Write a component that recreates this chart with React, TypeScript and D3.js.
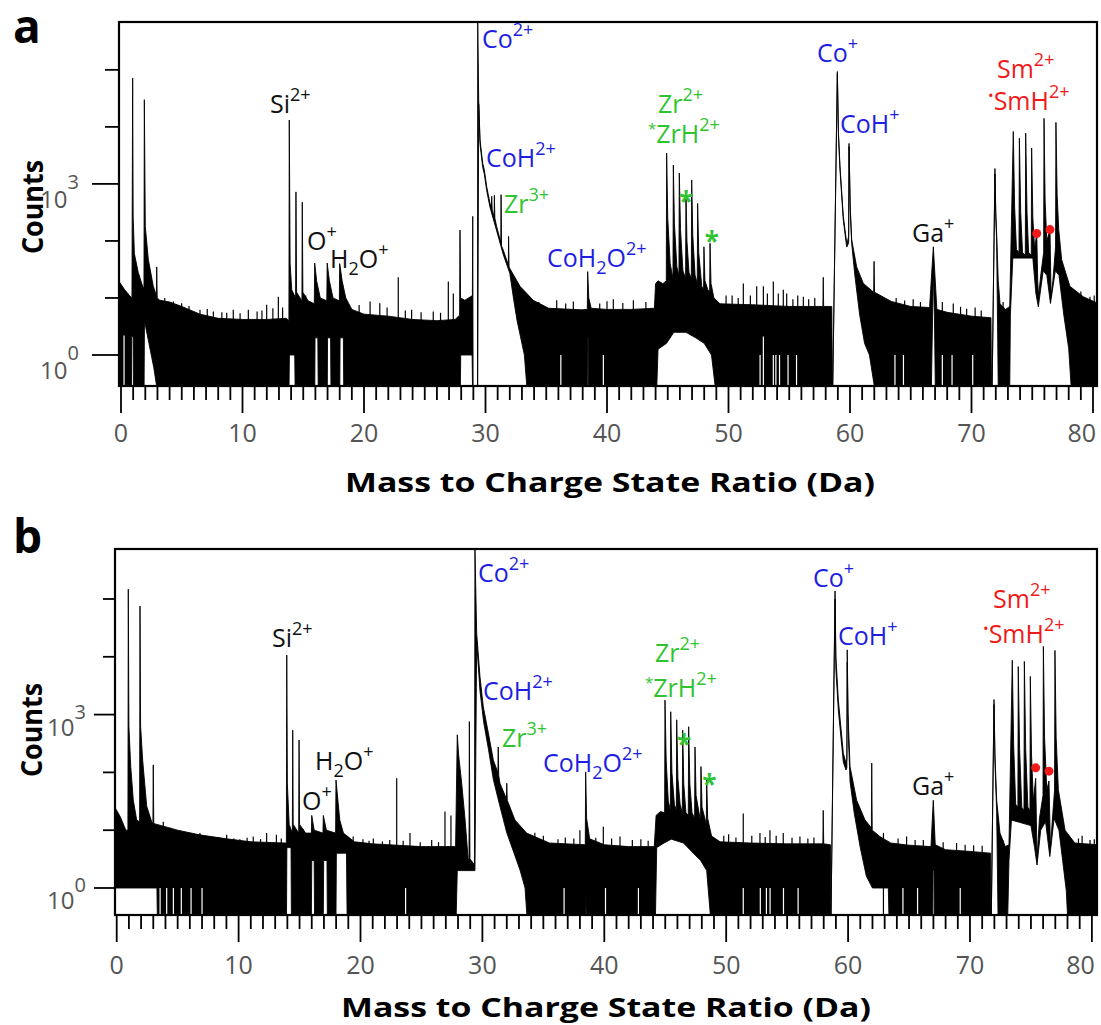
import React from "react";
import * as d3 from "d3";

type Pt = [number, number];

// ---------------- Panel a : spectrum envelope (m/z in Da, counts) ----------------
const upperA: Pt[] = [
  [-0.2, 20], [0.3, 14], [0.7, 11], [0.9, 10], [0.96, 72000], [1.0, 270], [1.1, 60], [1.42, 28], [1.78, 16],
  [1.89, 15], [1.92, 30000], [2.0, 178], [2.25, 47], [2.66, 16], [2.91, 11], [2.94, 35], [2.98, 10], [3.2, 9.1],
  [4.0, 8.5], [5.0, 7.1], [6.5, 5.2], [8.0, 4.4], [10.0, 4.2], [12.0, 4.2], [13.6, 4.4], [13.82, 4.0],
  [13.85, 13200], [13.92, 40], [14.05, 14], [14.37, 10], [14.4, 724], [14.45, 12.6], [14.89, 8.9], [14.92, 479],
  [14.97, 12.6], [15.4, 8.9], [15.91, 7.9], [15.94, 41], [16.1, 20], [16.4, 10], [16.94, 8.9], [16.97, 41],
  [17.15, 20], [17.45, 10], [17.97, 8.9], [18.0, 40], [18.2, 20], [18.5, 10], [19.0, 6.3], [20.0, 5.2],
  [22.0, 4.8], [24.0, 4.2], [26.0, 4.0], [27.5, 4.2], [27.87, 5.0], [27.9, 155], [27.95, 10], [28.3, 9.1],
  [28.92, 11], [28.95, 270], [28.98, 0], [29.34, 0], [29.36, 1e6], [29.44, 29500], [29.55, 5900], [29.77, 2290],
  [29.9, 1780], [30.1, 890], [30.37, 457], [30.49, 400], [30.51, 603], [30.55, 355], [30.71, 260], [30.73, 631],
  [30.77, 251], [30.92, 178], [31.26, 95], [31.28, 646], [31.32, 82], [31.46, 69], [31.88, 38], [31.9, 120],
  [31.94, 35], [32.0, 33], [32.84, 16], [33.93, 9.1], [35.2, 6.6], [37.9, 6.2], [38.38, 6.3], [38.41, 29],
  [38.5, 10], [38.7, 6.6], [40.0, 6.3], [42.0, 6.3], [43.9, 6.6], [44.0, 17.8], [44.2, 20], [44.6, 17.8],
  [44.88, 20], [44.91, 3470], [45.0, 251], [45.2, 40], [45.43, 22], [45.46, 2140], [45.55, 200], [45.75, 35],
  [45.92, 25], [45.95, 1550], [46.05, 158], [46.25, 30], [46.47, 22], [46.5, 692], [46.58, 100], [46.75, 28],
  [46.94, 22], [46.97, 1175], [47.06, 126], [47.25, 25], [47.43, 18], [47.46, 457], [47.55, 63], [47.8, 16],
  [47.95, 14], [47.98, 79], [48.06, 20], [48.3, 14], [48.45, 13], [48.48, 91], [48.56, 18], [48.8, 10],
  [49.3, 7.9], [52.0, 7.6], [55.0, 7.1], [57.77, 7.1], [57.8, 23], [57.83, 7.1], [58.5, 7.1], [58.55, 0],
  [58.58, 0], [58.96, 93300], [59.05, 7940], [59.18, 2000], [59.45, 270], [59.73, 91], [59.8, 100], [59.89, 120],
  [59.92, 5130], [60.02, 398], [60.14, 105], [60.55, 35], [61.1, 18], [61.95, 12.6], [61.98, 44], [62.02, 12.6],
  [62.2, 12], [63.4, 8.7], [65.0, 7.1], [66.55, 6.8], [66.86, 79], [67.15, 6.3], [68.0, 5.6], [70.0, 4.8],
  [71.6, 4.5], [71.65, 0], [71.7, 0], [71.93, 1860], [72.0, 316], [72.07, 135], [72.2, 20], [72.35, 7.9],
  [72.8, 6.3], [73.15, 7.1], [73.44, 8300], [73.55, 398], [73.7, 71], [73.91, 63], [73.94, 6310], [74.05, 316],
  [74.2, 63], [74.43, 56], [74.46, 7760], [74.57, 316], [74.7, 63], [74.92, 56], [74.95, 4270], [75.05, 251],
  [75.2, 71], [75.37, 141], [75.45, 20], [75.52, 10.5], [75.7, 25], [75.94, 63], [75.97, 14100], [76.06, 501],
  [76.2, 100], [76.46, 158], [76.55, 11], [76.7, 20], [76.92, 79], [76.95, 12000], [77.05, 631], [77.18, 158],
  [77.42, 47], [78.1, 16], [79.2, 10.5], [80.5, 7.9],
];
const lowerA: Pt[] = [
  [-0.2, 0], [0.86, 0], [0.88, 2.1], [1.0, 2.1], [1.02, 0], [1.9, 0], [1.93, 4.0], [2.3, 1.6], [2.7, 0.6],
  [2.93, 0], [13.83, 0], [13.86, 1], [14.3, 1], [14.33, 0], [15.95, 0], [15.97, 2], [16.2, 2], [16.23, 0],
  [16.98, 0], [17.0, 2], [17.25, 2], [17.28, 0], [18.01, 0], [18.03, 2], [18.3, 2], [18.33, 0], [27.93, 0],
  [27.96, 1], [28.9, 1], [28.93, 0], [29.36, 0], [29.44, 25000], [29.55, 5000], [29.77, 1950], [29.9, 1500],
  [30.1, 760], [30.37, 390], [30.92, 150], [31.46, 58], [32.0, 27], [32.3, 10], [32.6, 4], [32.9, 2], [33.2, 1],
  [33.4, 0], [38.38, 0], [38.4, 2], [38.45, 2], [38.47, 0], [44.1, 0], [44.2, 1.26], [44.9, 1.6], [45.5, 2.5],
  [46.5, 2.5], [47.3, 2], [48.0, 1.6], [48.6, 1], [48.9, 0], [58.58, 0], [58.96, 85000], [59.05, 7000],
  [59.18, 1750], [59.45, 230], [59.73, 78], [59.85, 88], [59.89, 95], [59.92, 4500], [60.02, 340], [60.14, 90],
  [60.4, 25], [60.8, 5], [61.2, 1.6], [61.6, 1], [62.0, 0], [66.7, 0], [66.8, 5], [66.86, 30], [66.95, 5],
  [67.02, 0], [71.7, 0], [71.93, 1500], [72.0, 250], [72.07, 100], [72.2, 0], [73.15, 0], [73.2, 5], [73.4, 50],
  [75.05, 50], [75.3, 12], [75.5, 7], [75.9, 30], [76.2, 25], [76.5, 8], [76.9, 30], [77.2, 25], [77.6, 5],
  [78.0, 1.3], [78.2, 0], [80.5, 0],
];
const noiseA: Pt[] = [
  [3.6, 10], [4.31, 8.7], [4.99, 8.1], [5.6, 7.2], [6.5, 6.2], [7.1, 6.4], [7.6, 5.8], [8.3, 5.6], [8.7, 5.5],
  [9.24, 6.2], [9.8, 5.4], [10.48, 6.2], [11.2, 5.8], [11.6, 6.0], [11.99, 7.6], [12.5, 6.6], [12.95, 10.5],
  [13.3, 6.8], [15.2, 11], [19.6, 7.5], [20.5, 8.7], [21.3, 8.1], [21.9, 6.8], [22.82, 23], [23.4, 6],
  [23.92, 6.2], [24.7, 5.6], [25.7, 5.8], [26.3, 5.5], [26.94, 19.5], [27.35, 12], [33.5, 11], [34.4, 8.5],
  [35.86, 9.1], [36.6, 8], [37.23, 8.7], [39.4, 8], [40.0, 8.8], [40.52, 9.5], [41.3, 8.2], [42.17, 9.1],
  [43.2, 8.5], [49.8, 11], [50.3, 11], [50.8, 10], [51.22, 18], [51.8, 11], [52.32, 16], [52.87, 16],
  [53.2, 12], [53.69, 19.5], [54.1, 12], [54.51, 14], [54.79, 12], [55.3, 9.5], [55.7, 11], [56.16, 10.5],
  [56.6, 9.5], [57.1, 10], [63.8, 10], [64.5, 9], [65.2, 9.5], [65.8, 8.5], [67.6, 8.5], [68.5, 8], [69.1, 7],
  [69.6, 6.5], [70.3, 6.8], [70.8, 6], [72.6, 8.5], [78.6, 12], [79.0, 13], [79.75, 10.5], [80.1, 11],
];
const gapsA: Pt[] = [
  [0.25, 2.2], [36.2, 1], [39.7, 1], [52.6, 1], [52.87, 2.1], [53.69, 1], [53.9, 1], [54.2, 1], [54.9, 1],
  [55.6, 1], [63.7, 1], [64.4, 1], [67.6, 1], [68.4, 1], [70.1, 1],
];

// ---------------- Panel b ----------------
const upperB: Pt[] = [
  [-0.2, 26], [0.3, 17], [0.75, 10], [0.92, 10], [0.95, 148000], [1.0, 631], [1.15, 126], [1.36, 33], [1.64, 15],
  [1.88, 14], [1.91, 75900], [1.96, 631], [2.13, 162], [2.46, 26], [2.87, 14], [2.97, 13], [3.0, 135], [3.04, 13],
  [3.3, 12.6], [5.0, 10], [6.8, 8.3], [9.0, 7.1], [11.0, 6.3], [13.8, 6.0], [13.92, 6.0], [13.95, 10700],
  [14.0, 63], [14.15, 12.6], [14.41, 8.9], [14.44, 537], [14.48, 12.6], [14.93, 8.9], [14.96, 363], [15.0, 12.6],
  [15.5, 8.9], [15.97, 8.9], [16.0, 18], [16.2, 10], [16.92, 8.9], [16.95, 18], [17.2, 10], [17.96, 8.9],
  [17.99, 74], [18.3, 15], [18.6, 8.9], [19.5, 6.3], [21.0, 5.8], [23.0, 5.5], [25.0, 5.2], [27.8, 5.2],
  [27.94, 447], [28.05, 200], [28.3, 65], [28.57, 16], [28.84, 3.0], [28.9, 3.2], [28.93, 759], [28.98, 3.2],
  [29.35, 2.5], [29.39, 1e6], [29.53, 25700], [29.8, 4570], [30.07, 1380], [30.49, 479], [30.9, 162], [31.27, 100],
  [31.3, 275], [31.34, 89], [31.44, 65], [31.97, 35], [32.0, 65], [32.04, 33], [32.67, 15], [33.63, 8.9],
  [35.5, 6.0], [38.44, 5.6], [38.47, 102], [38.55, 16], [38.8, 7.1], [40.0, 5.6], [42.0, 5.2], [44.1, 5.2],
  [44.25, 18], [44.6, 21], [44.95, 20], [44.98, 1780], [45.08, 158], [45.25, 32], [45.42, 22], [45.45, 1120],
  [45.55, 100], [45.75, 28], [45.91, 22], [45.94, 813], [46.04, 79], [46.22, 28], [46.4, 20], [46.43, 537],
  [46.52, 63], [46.7, 20], [46.89, 18], [46.92, 617], [47.02, 63], [47.2, 20], [47.41, 16], [47.44, 275],
  [47.53, 40], [47.9, 14], [47.93, 126], [48.02, 25], [48.37, 12.6], [48.4, 79], [48.48, 16], [48.8, 7.9],
  [49.5, 6.3], [52.0, 6.0], [55.0, 5.8], [57.93, 5.8], [57.96, 22], [58.0, 5.8], [58.55, 5.6], [58.58, 0],
  [58.6, 0], [58.93, 138000], [59.0, 10000], [59.2, 1780], [59.61, 214], [59.83, 145], [59.9, 170],
  [59.93, 13200], [60.0, 1000], [60.16, 126], [60.7, 33], [61.39, 15], [61.91, 11], [61.94, 145], [61.98, 10],
  [62.6, 7.8], [63.5, 6.0], [65.0, 5.5], [66.8, 5.2], [66.99, 33], [67.15, 5.6], [68.0, 4.6], [70.0, 4.3],
  [71.7, 4.0], [71.72, 0], [71.75, 0], [71.97, 1820], [72.05, 200], [72.19, 33], [72.46, 8.9], [72.9, 5.2],
  [73.2, 5.6], [73.47, 8710], [73.58, 316], [73.75, 28], [73.93, 25], [73.96, 6760], [74.07, 251], [74.25, 25],
  [74.43, 22], [74.46, 8320], [74.57, 251], [74.75, 25], [74.92, 22], [74.95, 4570], [75.05, 200], [75.2, 32],
  [75.39, 79], [75.5, 3.2], [75.7, 16], [75.99, 40], [76.02, 15100], [76.12, 398], [76.3, 50], [76.48, 71],
  [76.6, 5.0], [76.8, 20], [76.94, 50], [76.97, 12900], [77.07, 398], [77.25, 50], [77.8, 10], [78.6, 6.0],
  [80.5, 5.6],
];
const lowerB: Pt[] = [
  [-0.2, 1], [3.3, 1], [3.33, 0], [13.93, 0], [13.96, 5], [14.3, 5], [14.33, 0], [15.97, 0], [16.0, 3],
  [16.2, 3], [16.23, 0], [16.95, 0], [16.98, 3], [17.25, 3], [17.28, 0], [17.99, 0], [18.02, 4], [18.85, 4],
  [18.9, 0], [27.85, 0], [27.94, 2], [29.39, 2], [29.53, 18000], [29.8, 2600], [30.1, 750], [30.5, 250],
  [30.9, 75], [31.4, 28], [32.0, 9], [32.6, 4], [33.1, 2], [33.5, 1], [33.65, 0], [38.45, 0], [38.47, 1],
  [38.52, 0], [44.2, 0], [44.3, 5], [44.9, 6], [45.5, 7], [46.5, 6], [47.3, 4], [47.9, 3], [48.4, 2],
  [48.7, 0], [58.6, 0], [58.93, 100000], [59.0, 6000], [59.2, 1200], [59.61, 150], [59.83, 110], [59.9, 120],
  [59.93, 8000], [60.0, 600], [60.16, 70], [60.5, 20], [61.0, 5], [61.5, 1.6], [62.0, 1], [63.3, 1], [63.35, 0],
  [66.95, 0], [66.97, 2], [67.05, 2], [67.07, 0], [71.75, 0], [71.97, 1500], [72.05, 150], [72.19, 20],
  [72.3, 0], [73.1, 0], [73.2, 3], [73.4, 15], [75.0, 12], [75.3, 5], [75.5, 2.5], [75.8, 10], [76.2, 14],
  [76.55, 3.5], [76.9, 16], [77.3, 10], [77.6, 3], [77.9, 0.9], [78.0, 0], [80.5, 0],
];
const noiseB: Pt[] = [
  [3.82, 14], [4.4, 11], [4.92, 10], [5.8, 9], [6.83, 8.9], [7.3, 8], [7.8, 7.5], [8.4, 7.6], [9.02, 8.3],
  [9.6, 7.2], [10.1, 7], [10.7, 7.4], [11.2, 7.8], [11.8, 7], [12.3, 8.9], [13.1, 8.3], [13.5, 7.2], [15.3, 10.5],
  [19.4, 7.8], [20.2, 7], [20.7, 6.6], [21.05, 7.2], [21.8, 6.4], [22.4, 6.8], [22.97, 79], [23.5, 6.6],
  [24.06, 8.9], [24.9, 6.2], [25.84, 6.8], [26.4, 6.2], [26.93, 21], [27.42, 18], [34.3, 9], [35.0, 8],
  [36.2, 7], [36.8, 7.5], [37.5, 7.2], [38.0, 10], [39.3, 7.4], [39.92, 11.5], [40.6, 7.2], [41.29, 7.8],
  [42.3, 6.8], [43.0, 7], [43.6, 6.6], [49.8, 8], [50.2, 8.5], [50.8, 7.5], [51.4, 19.5], [52.1, 8],
  [52.77, 8.9], [53.2, 7.6], [53.59, 10], [54.1, 8], [54.68, 8.9], [55.4, 7.4], [56.05, 7.8], [56.7, 7.2],
  [57.2, 7.5], [62.9, 9], [64.1, 7.2], [64.8, 7.8], [65.5, 6.8], [66.17, 6.8], [67.8, 6.2], [68.9, 6],
  [69.6, 5.6], [70.3, 5.5], [71.0, 5.4], [72.7, 6.8], [78.9, 7.2], [79.2, 8], [79.85, 6.8], [80.2, 7],
];
const gapsB: Pt[] = [
  [3.56, 1], [4.1, 1], [4.65, 1], [5.3, 1], [6.1, 1], [7.0, 1], [23.7, 1], [36.7, 1], [40.1, 1], [42.8, 1],
  [51.4, 1], [52.8, 1], [53.3, 1], [53.6, 1], [54.7, 1], [55.9, 1], [64.5, 1], [65.7, 1], [69.2, 1],
];

// ---------------- axes ----------------
const xMajorTicks = [0, 10, 20, 30, 40, 50, 60, 70, 80];
const yDecadeTicks = [1, 10, 100, 1000, 10000, 100000];
const yLabelledExps = [0, 3];

// ---------------- annotations (m/z, counts) ----------------
type Part = { t: string; k?: "sup" | "sub" | "pre" };
type Lab = { mz: number; c: number; color: string; parts: Part[] };
const BLUE = "#1e1ee0";
const GREEN = "#2fc42f";
const RED = "#f01a1a";
const BLACK = "#111";

const labelsA: Lab[] = [
  { mz: 12.26, c: 17800, color: BLACK, parts: [{ t: "Si" }, { t: "2+", k: "sup" }] },
  { mz: 15.31, c: 69, color: BLACK, parts: [{ t: "O" }, { t: "+", k: "sup" }] },
  { mz: 17.2, c: 34, color: BLACK, parts: [{ t: "H" }, { t: "2", k: "sub" }, { t: "O" }, { t: "+", k: "sup" }] },
  { mz: 29.71, c: 245000, color: BLUE, parts: [{ t: "Co" }, { t: "2+", k: "sup" }] },
  { mz: 30.04, c: 2000, color: BLUE, parts: [{ t: "CoH" }, { t: "2+", k: "sup" }] },
  { mz: 31.52, c: 309, color: GREEN, parts: [{ t: "Zr" }, { t: "3+", k: "sup" }] },
  { mz: 35.06, c: 35, color: BLUE, parts: [{ t: "CoH" }, { t: "2", k: "sub" }, { t: "O" }, { t: "2+", k: "sup" }] },
  { mz: 44.2, c: 17800, color: GREEN, parts: [{ t: "Zr" }, { t: "2+", k: "sup" }] },
  { mz: 43.37, c: 5250, color: GREEN, parts: [{ t: "*", k: "pre" }, { t: "ZrH" }, { t: "2+", k: "sup" }] },
  { mz: 57.28, c: 138000, color: BLUE, parts: [{ t: "Co" }, { t: "+", k: "sup" }] },
  { mz: 59.18, c: 7800, color: BLUE, parts: [{ t: "CoH" }, { t: "+", k: "sup" }] },
  { mz: 65.1, c: 95, color: BLACK, parts: [{ t: "Ga" }, { t: "+", k: "sup" }] },
  { mz: 72.1, c: 72400, color: RED, parts: [{ t: "Sm" }, { t: "2+", k: "sup" }] },
  { mz: 71.36, c: 20000, color: RED, parts: [{ t: "•", k: "pre" }, { t: "SmH" }, { t: "2+", k: "sup" }] },
];
const labelsB: Lab[] = [
  { mz: 12.74, c: 14800, color: BLACK, parts: [{ t: "Si" }, { t: "2+", k: "sup" }] },
  { mz: 16.27, c: 110, color: BLACK, parts: [{ t: "H" }, { t: "2", k: "sub" }, { t: "O" }, { t: "+", k: "sup" }] },
  { mz: 15.2, c: 22, color: BLACK, parts: [{ t: "O" }, { t: "+", k: "sup" }] },
  { mz: 29.64, c: 195000, color: BLUE, parts: [{ t: "Co" }, { t: "2+", k: "sup" }] },
  { mz: 30.05, c: 1780, color: BLUE, parts: [{ t: "CoH" }, { t: "2+", k: "sup" }] },
  { mz: 31.61, c: 275, color: GREEN, parts: [{ t: "Zr" }, { t: "3+", k: "sup" }] },
  { mz: 34.97, c: 102, color: BLUE, parts: [{ t: "CoH" }, { t: "2", k: "sub" }, { t: "O" }, { t: "2+", k: "sup" }] },
  { mz: 44.16, c: 8130, color: GREEN, parts: [{ t: "Zr" }, { t: "2+", k: "sup" }] },
  { mz: 43.34, c: 2000, color: GREEN, parts: [{ t: "*", k: "pre" }, { t: "ZrH" }, { t: "2+", k: "sup" }] },
  { mz: 57.12, c: 162000, color: BLUE, parts: [{ t: "Co" }, { t: "+", k: "sup" }] },
  { mz: 59.17, c: 15800, color: BLUE, parts: [{ t: "CoH" }, { t: "+", k: "sup" }] },
  { mz: 65.24, c: 41, color: BLACK, parts: [{ t: "Ga" }, { t: "+", k: "sup" }] },
  { mz: 71.89, c: 69200, color: RED, parts: [{ t: "Sm" }, { t: "2+", k: "sup" }] },
  { mz: 71.07, c: 17400, color: RED, parts: [{ t: "•", k: "pre" }, { t: "SmH" }, { t: "2+", k: "sup" }] },
];
const starsA: Pt[] = [[46.5, 590], [48.62, 117]];
const starsB: Pt[] = [[46.54, 363], [48.61, 74]];
const dotsA: Pt[] = [[75.37, 135], [76.46, 158]];
const dotsB: Pt[] = [[75.39, 120], [76.48, 105]];

// ---------------- layout ----------------
const FONT = "'Open Sans', 'Noto Sans', 'DejaVu Sans', sans-serif";
type Layout = {
  id: string; left: number; right: number; top: number; bottom: number;
  xDom: [number, number]; yDom: [number, number]; letter: string; letterY: number;
  yMajorLen: number; yMinorLen: number; tickLabelY: number; titleY: number; titleX: number;
  countsX: number; countsY: number; yLabX: number; yLabDy: number; ySupDy: number;
};
const layoutA: Layout = {
  id: "a", left: 119, right: 1097, top: 22, bottom: 386, xDom: [-0.165, 80.33], yDom: [0.286, 6.9e5],
  letter: "a", letterY: 43, yMajorLen: 27, yMinorLen: 14, tickLabelY: 442, titleY: 492, titleX: 610,
  countsX: 43, countsY: 207, yLabX: 40, yLabDy: 24, ySupDy: -19,
};
const layoutB: Layout = {
  id: "b", left: 115, right: 1097, top: 549, bottom: 915, xDom: [-0.14, 80.42], yDom: [0.341, 7.33e5],
  letter: "b", letterY: 553, yMajorLen: 21, yMinorLen: 12, tickLabelY: 974, titleY: 1017, titleX: 606,
  countsX: 42, countsY: 730, yLabX: 47, yLabDy: 21, ySupDy: -17,
};

function Label({ x, y, lab }: { x: number; y: number; lab: Lab }) {
  let cur = 0;
  return (
    <text x={x} y={y} fill={lab.color} fontSize={25} fontFamily={FONT}>
      {lab.parts.map((p, i) => {
        const target = p.k === "sup" ? -12 : p.k === "sub" ? 7 : p.k === "pre" ? -9 : 0;
        const dy = target - cur;
        cur = target;
        const fs = p.k === "pre" ? 15 : p.k ? 18 : 25;
        return (
          <tspan key={i} dy={dy} fontSize={fs}>
            {p.t}
          </tspan>
        );
      })}
    </text>
  );
}

function Panel({ L, upper, lower, noise, gaps, labels, stars, dots }: {
  L: Layout; upper: Pt[]; lower: Pt[]; noise: Pt[]; gaps: Pt[]; labels: Lab[]; stars: Pt[]; dots: Pt[];
}) {
  const x = d3.scaleLinear().domain(L.xDom).range([L.left, L.right]);
  const y = d3.scaleLog().domain(L.yDom).range([L.bottom, L.top]).clamp(true);
  const pts: Pt[] = [
    ...upper.map(([m, c]) => [x(m), y(c)] as Pt),
    ...lower.slice().reverse().map(([m, c]) => [x(m), y(c)] as Pt),
  ];
  const poly = d3.line()(pts) + "Z";
  const minor = d3.range(0, 81).filter((v) => v % 10 !== 0);
  const clipId = "clip-" + L.id;
  const lastTick = xMajorTicks[xMajorTicks.length - 1];
  return (
    <g>
      <defs>
        <clipPath id={clipId}>
          <rect x={L.left} y={L.top} width={L.right - L.left} height={L.bottom - L.top} />
        </clipPath>
      </defs>
      <g clipPath={`url(#${clipId})`}>
        <path d={poly} fill="#000" stroke="#000" strokeWidth={0.9} strokeLinejoin="round" />
        {noise.map(([m, c], i) => (
          <line key={i} x1={x(m)} x2={x(m)} y1={y(0)} y2={y(c)} stroke="#000" strokeWidth={1.2} />
        ))}
        {gaps.map(([m, c], i) => (
          <line key={i} x1={x(m)} x2={x(m)} y1={y(0)} y2={y(c)} stroke="#fff" strokeWidth={1.2} />
        ))}
      </g>
      <rect x={L.left} y={L.top} width={L.right - L.left} height={L.bottom - L.top} fill="none" stroke="#000" strokeWidth={2.2} />
      {/* x ticks */}
      {minor.map((t) => (
        <line key={"m" + t} x1={x(t)} x2={x(t)} y1={L.bottom} y2={L.bottom + 14} stroke="#000" strokeWidth={1.8} />
      ))}
      {xMajorTicks.map((t) => (
        <g key={"M" + t}>
          <line x1={x(t)} x2={x(t)} y1={L.bottom} y2={L.bottom + 27} stroke="#000" strokeWidth={1.8} />
          <text x={t === lastTick ? x(t) + 3 : x(t)} y={L.tickLabelY} textAnchor={t === lastTick ? "end" : "middle"}
            fontSize={25} fill="#555" fontFamily={FONT}>
            {t}
          </text>
        </g>
      ))}
      {/* y ticks */}
      {yDecadeTicks.map((v) => {
        const e = Math.round(Math.log10(v));
        const big = yLabelledExps.includes(e);
        const yy = y(v);
        return (
          <g key={"y" + v}>
            <line x1={L.left - (big ? L.yMajorLen : L.yMinorLen)} x2={L.left} y1={yy} y2={yy} stroke="#000" strokeWidth={1.8} />
            {big && (
              <text x={L.yLabX} y={yy + L.yLabDy} fontSize={24} fill="#555" fontFamily={FONT}>
                10
                <tspan dy={L.ySupDy} fontSize={20}>
                  {e}
                </tspan>
              </text>
            )}
          </g>
        );
      })}
      <text x={L.titleX} y={L.titleY} textAnchor="middle" fontSize={27} fontWeight={700}
        fontFamily={FONT} fill="#000" textLength={530} lengthAdjust="spacingAndGlyphs">
        Mass to Charge State Ratio (Da)
      </text>
      <text transform={`translate(${L.countsX},${L.countsY}) rotate(-90)`} textAnchor="middle" fontSize={28}
        fontWeight={700} fontFamily={FONT} fill="#000" textLength={94} lengthAdjust="spacingAndGlyphs">
        Counts
      </text>
      <text x={13} y={L.letterY} fontSize={46} fontWeight={700} fontFamily={FONT} fill="#000">
        {L.letter}
      </text>
      {labels.map((lab, i) => (
        <Label key={i} x={x(lab.mz)} y={y(lab.c)} lab={lab} />
      ))}
      {stars.map(([m, c], i) => (
        <text key={i} x={x(m)} y={y(c) + 14} textAnchor="middle" fontSize={26} fontWeight={700} fill={GREEN} fontFamily={FONT}>
          *
        </text>
      ))}
      {dots.map(([m, c], i) => (
        <circle key={i} cx={x(m)} cy={y(c)} r={4.5} fill={RED} />
      ))}
    </g>
  );
}

export default function App() {
  return (
    <svg width={1101} height={1025} style={{ position: "absolute", left: 0, top: 0, background: "#fff" }}>
      <rect x={0} y={0} width={1101} height={1025} fill="#fff" />
      <Panel L={layoutA} upper={upperA} lower={lowerA} noise={noiseA} gaps={gapsA} labels={labelsA} stars={starsA} dots={dotsA} />
      <Panel L={layoutB} upper={upperB} lower={lowerB} noise={noiseB} gaps={gapsB} labels={labelsB} stars={starsB} dots={dotsB} />
    </svg>
  );
}
